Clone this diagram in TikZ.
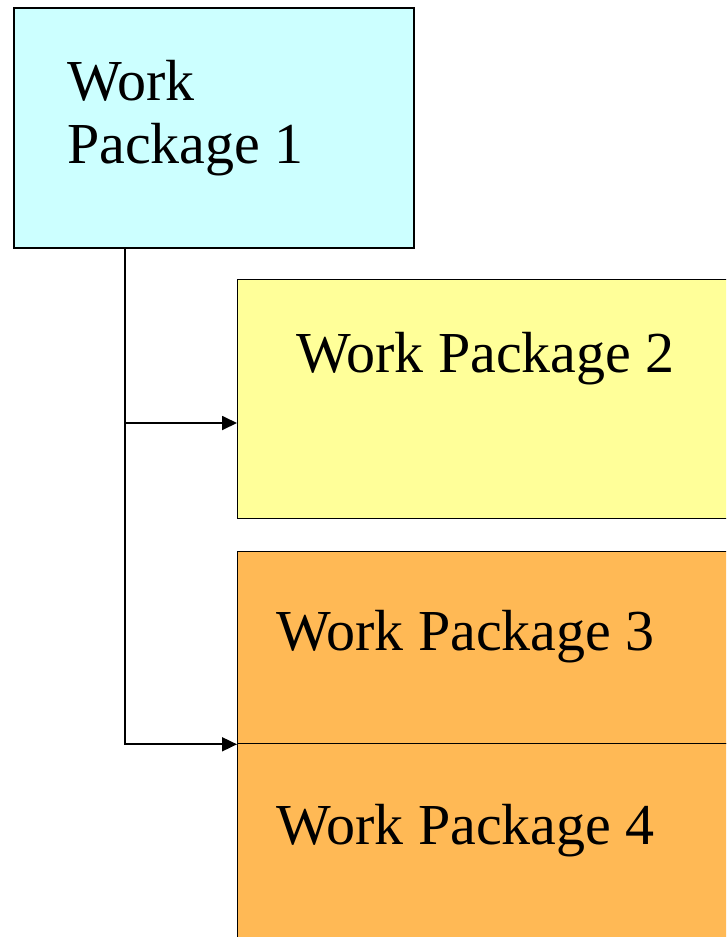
\documentclass[tikz,border=0pt]{standalone}
\usepackage{fontspec}
\setmainfont{Liberation Serif}
\usetikzlibrary{arrows.meta}
\definecolor{wpcyan}{RGB}{204,255,255}
\definecolor{wpyellow}{RGB}{255,255,153}
\definecolor{wporange}{RGB}{255,185,85}
\tikzset{
  wpbox/.style={draw=black, line width=1.3pt, rectangle, inner sep=0pt, anchor=north west},
  wptext/.style={anchor=base west, inner sep=0pt, font=\fontsize{58}{63}\selectfont},
  conn/.style={draw=black, line width=1.8pt, -{Triangle[length=15pt,width=14pt]}}
}
\begin{document}
\begin{tikzpicture}[x=1pt,y=-1pt]
\useasboundingbox (0,0) rectangle (726,937);
\clip (0,0) rectangle (726,937);
\node[wpbox, fill=wpcyan, line width=1.8pt, minimum width=400pt, minimum height=240pt] (b1) at (13,7) {};
\node[wpbox, fill=wpyellow, minimum width=540pt, minimum height=239pt] (b2) at (237,279) {};
\node[wpbox, fill=wporange, minimum width=540pt, minimum height=192pt] (b3) at (237,551) {};
\node[wpbox, fill=wporange, minimum width=540pt, minimum height=230pt] (b4) at (237,743) {};
\node[wptext] (t1a) at (67,100) {Work};
\node[wptext] (t1b) at (67,163) {Package 1};
\node[wptext] (t2) at (296,372) {Work Package 2};
\node[wptext] (t3) at (276,650) {Work Package 3};
\node[wptext] (t4) at (276,844) {Work Package 4};
\coordinate (top) at ([xshift=112pt]b1.south west);
\coordinate (in2) at ([yshift=-144pt]b2.north west);
\draw[conn] (top) |- (b3.south west);
\draw[conn] (top |- in2) -- (in2);
\end{tikzpicture}
\end{document}
